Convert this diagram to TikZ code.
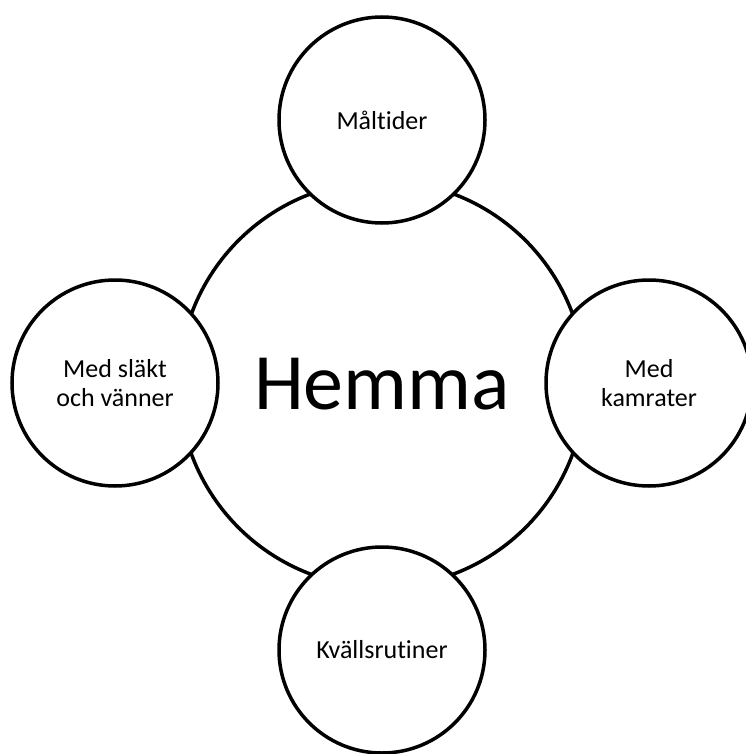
\documentclass[tikz,border=0pt]{standalone}
\usepackage{fontspec}
\setmainfont{Carlito}[Ligatures=NoCommon]
\usepackage{tikz}
\tikzstyle{ring} = [draw,circle,line width=3.5pt,inner sep=0pt]
\tikzstyle{hub} = [ring,minimum size=406pt,font=\fontsize{80}{90}\selectfont]
\tikzstyle{bubble} = [ring,fill=white,minimum size=206pt,align=center,font=\fontsize{26}{29}\selectfont]

\begin{document}
\begin{tikzpicture}[x=1pt,y=-1pt]
    \useasboundingbox (0,0) rectangle (745,754);

    \node[hub] (hemma) at (382,384) {Hemma};
    \node[bubble] (maltider) at (382,120) {Måltider};
    \node[bubble] (slakt) at (115,383) {Med släkt\\och vänner};
    \node[bubble] (kamrater) at (649,383) {Med\\kamrater};
    \node[bubble] (kvall) at (382,650) {Kvällsrutiner};

\end{tikzpicture}
\end{document}
